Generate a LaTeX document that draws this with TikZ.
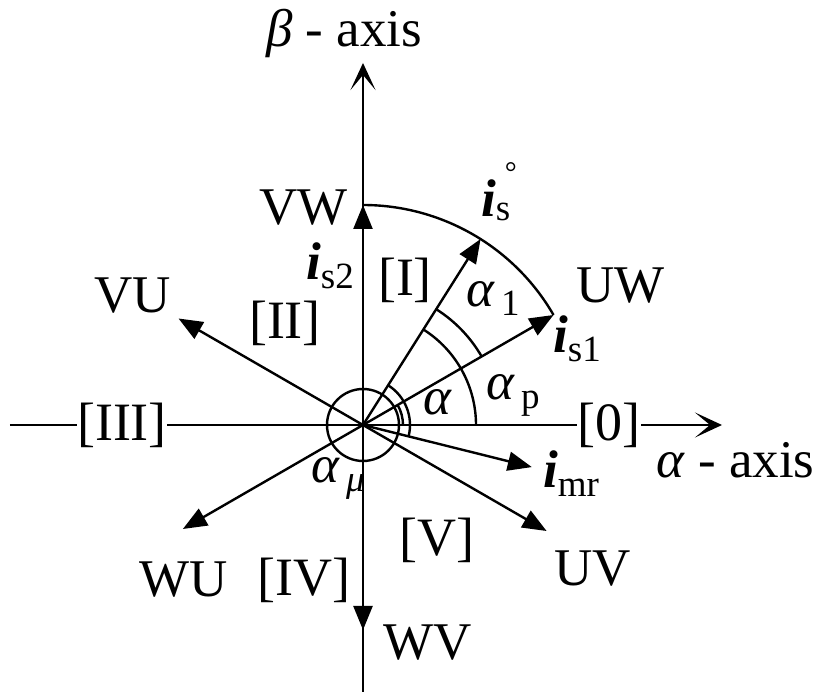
\documentclass[tikz,border=0pt]{standalone}
\usepackage{fontspec}
\setmainfont{Liberation Serif}
\usetikzlibrary{arrows.meta}
\newcommand\bvec{\textbf{\textit{i}}}
\newcommand\lsub[1]{\raisebox{-9pt}{\fontsize{37}{40}\selectfont #1}}
\begin{document}
\begin{tikzpicture}[x=1pt,y=1pt, line width=2.4pt,
  vec/.style={-{Triangle[length=24pt,width=19pt]}},
  ax/.style={-{Stealth[length=27pt,width=25pt,inset=15pt]}},
  lab/.style={font=\fontsize{53}{60}\selectfont, inner sep=0pt, anchor=base west},
  sec/.style={font=\fontsize{54}{60}\selectfont, inner sep=0.5pt, fill=white}]
\useasboundingbox (-363,-267) rectangle (458,425);
% axes
\coordinate (O) at (0,0);
\coordinate (xl) at (-353,0);
\coordinate (xr) at (359,0);
\coordinate (yt) at (0,362);
\coordinate (yb) at (0,-267);
\draw[ax] (xl) -- (xr);
\draw[ax] (yb) -- (yt);
% vector tips
\coordinate (VWt) at (90:220);
\coordinate (Ist) at (57.7:220);
\coordinate (UWt) at (30:220);
\coordinate (VUt) at (150:213);
\coordinate (WUt) at (210:208);
\coordinate (UVt) at (-30:212);
\coordinate (WVt) at (-90:205);
\coordinate (IMt) at (-14:174);
\foreach \t in {VWt,Ist,UWt,VUt,WUt,UVt,WVt,IMt} \draw[vec] (O) -- (\t);
% arcs
\draw (O) circle[radius=36];
\draw (0:40) arc[start angle=0,end angle=30,radius=40];
\draw (-14:47) arc[start angle=-14,end angle=58,radius=47];
\draw (0:113) arc[start angle=0,end angle=57.7,radius=113];
\draw (30:137) arc[start angle=30,end angle=57.7,radius=137];
\draw (VWt) arc[start angle=90,end angle=30,radius=220];
% sector labels
\node[sec] (s0) at (246,0) {[0]};
\node[sec] (s3) at (-241,0) {[III]};
\node[sec,fill=none] (s1) at (42,145) {[I]};
\node[sec,fill=none] (s2) at (-78,102) {[II]};
\node[sec,fill=none] (s4) at (-59,-155) {[IV]};
\node[sec,fill=none] (s5) at (74,-115) {[V]};
% axis labels
\node[lab] (bax) at (-98,378) {\textit{β} - axis};
\node[lab] (aax) at (292,-53) {\textit{α} - axis};
% vector labels
\node[lab] (lVW) at (-105,200) {VW};
\node[lab] (lVU) at (-270,112) {VU};
\node[lab] (lUW) at (212,122) {UW};
\node[lab] (lWU) at (-225,-172) {WU};
\node[lab] (lWV) at (19,-235) {WV};
\node[lab] (lUV) at (190,-161) {UV};
\node[lab] (lis) at (117,208) {\bvec\rlap{\raisebox{34pt}{\hspace{9pt}\fontsize{30}{32}\selectfont °}}\raisebox{-4pt}{\fontsize{37}{40}\selectfont s}};
\node[lab] (lis2) at (-58,145) {\bvec\lsub{s2}};
\node[lab] (lis1) at (189,72) {\bvec\lsub{s1}};
\node[lab] (limr) at (179,-63) {\bvec\lsub{mr}};
% angle labels
\node[lab] (la1) at (102,118) {\textit{α}\lsub{\,1}};
\node[lab] (lap) at (122,25) {\textit{α}\lsub{\,p}};
\node[lab] (la) at (59,10) {\textit{α}};
\node[lab] (lam) at (-53,-58) {\textit{α}\lsub{\,\textit{μ}}};
\end{tikzpicture}
\end{document}
